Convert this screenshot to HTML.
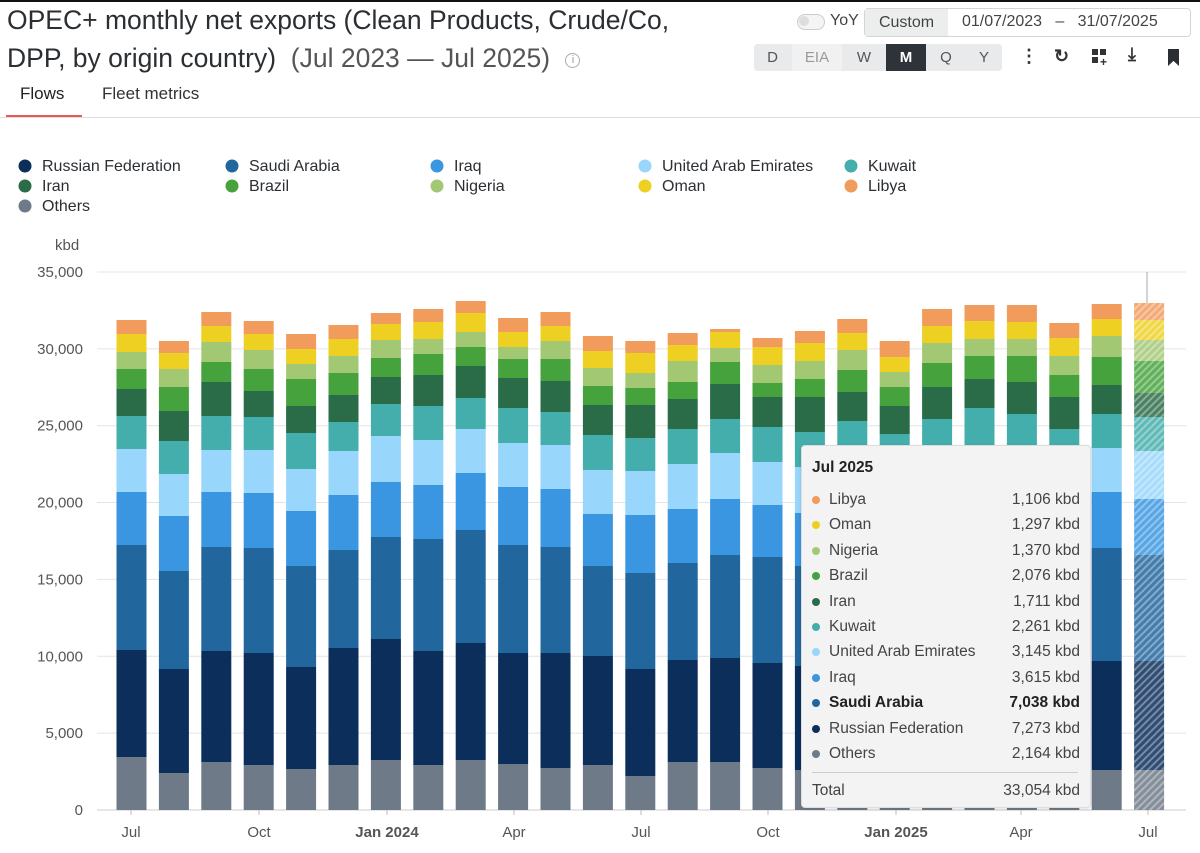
<!DOCTYPE html>
<html><head><meta charset="utf-8">
<style>
body{margin:0;width:1200px;height:853px;background:#fff;font-family:"Liberation Sans",sans-serif;color:#2b2f33;position:relative;overflow:hidden}
.a{position:absolute;white-space:nowrap}
.btn{position:absolute;top:44px;height:27px;line-height:27px;text-align:center;font-size:15px;color:#555;background:#e9eaeb}
</style></head><body>
<div class="a" style="left:0;top:0;width:1200px;height:2px;background:#111"></div>
<div class="a" style="left:7px;top:5px;font-size:26.5px;color:#2b2f33">OPEC+ monthly net exports (Clean Products, Crude/Co,</div>
<div class="a" style="left:7px;top:43px;font-size:26.5px;color:#2b2f33">DPP, by origin country) <span style="color:#555;font-weight:300">&nbsp;(Jul 2023 — Jul 2025)</span> <span style="color:#999;border:1.5px solid #aaa;border-radius:50%;display:inline-block;width:13px;height:13px;line-height:13px;text-align:center;font-size:11px;vertical-align:4px;margin-left:8px">i</span></div>
<div class="a" style="left:20px;top:84px;font-size:17px;color:#222">Flows</div>
<div class="a" style="left:102px;top:84px;font-size:17px;color:#333">Fleet metrics</div>
<div class="a" style="left:6px;top:115px;width:76px;height:3px;background:#e85a56"></div>
<div class="a" style="left:0;top:117px;width:1200px;height:1px;background:#ddd"></div>
<div class="a" style="left:797px;top:14px;width:26px;height:14px;border:1px solid #ccc;border-radius:8px;background:#f4f4f4"></div>
<div class="a" style="left:799px;top:16px;width:10px;height:10px;border-radius:50%;background:#ddd"></div>
<div class="a" style="left:830px;top:12px;font-size:16px;color:#444">YoY</div>
<div class="a" style="left:864px;top:8px;width:325px;height:27px;border:1px solid #d5d5d5;border-radius:4px"></div>
<div class="a" style="left:865px;top:9px;width:83px;height:27px;background:#eceded;line-height:27px;text-align:center;font-size:16px;color:#444">Custom</div>
<div class="a" style="left:962px;top:13px;font-size:16px;color:#444">01/07/2023 &nbsp;&nbsp;–&nbsp;&nbsp; 31/07/2025</div>
<div class="a" style="left:754px;top:44px;width:248px;height:27px;background:#e9eaeb;border-radius:4px"></div>
<div class="btn" style="left:754px;width:37px;border-radius:4px 0 0 4px">D</div>
<div class="btn" style="left:792px;width:50px;background:#f1f1f1;color:#999">EIA</div>
<div class="btn" style="left:844px;width:40px">W</div>
<div class="btn" style="left:886px;width:40px;background:#2d3339;color:#fff;font-weight:bold">M</div>
<div class="btn" style="left:927px;width:38px">Q</div>
<div class="btn" style="left:966px;width:36px;border-radius:0 4px 4px 0">Y</div>
<div class="a" style="left:1020px;top:46px;font-size:18px;font-weight:bold;color:#333">⋮</div>
<div class="a" style="left:1054px;top:46px;font-size:18px;font-weight:bold;color:#333">↻</div>
<div class="a" style="left:1092px;top:49px;width:6px;height:6px;background:#333"></div><div class="a" style="left:1100px;top:49px;width:6px;height:6px;background:#333"></div><div class="a" style="left:1092px;top:57px;width:6px;height:6px;background:#333"></div><div class="a" style="left:1100px;top:55px;font-size:12px;font-weight:bold;color:#333">+</div>
<div class="a" style="left:1128px;top:44px;font-size:18px;font-weight:bold;color:#333">⤓</div>
<div class="a" style="left:1168px;top:49px;width:11px;height:17px;background:#2b2f33;clip-path:polygon(0 0,100% 0,100% 100%,50% 70%,0 100%)"></div>
<svg class="a" style="left:0;top:0" width="1200" height="853" id="s">
<g font-family="Liberation Sans" font-size="16" fill="#2b2f33" id="leg"></g>
<g id="g"></g>
</svg>
<div class="a" style="left:801px;top:445px;width:288px;height:361px;background:#f3f3f3;border:1px solid #ddd;border-radius:4px;box-shadow:0 1px 3px rgba(0,0,0,0.12);font-size:15.5px;color:#444">
<div style="position:absolute;left:10px;top:13px;font-weight:bold;font-size:15.5px;color:#222">Jul 2025</div>
<div id="tt"></div>
<div style="position:absolute;left:10px;top:326px;width:266px;height:1px;background:#ccc"></div>
<div style="position:absolute;left:10px;top:336px">Total</div>
<div style="position:absolute;right:10px;top:336px">33,054 kbd</div>
</div>
<script>
var C=["#6e7a88","#0b2e5a","#22669e","#3a96e0","#98d6fb","#43aeac","#2a6b48","#45a23d","#a3c874","#edd022","#f19b5d"];
var N=["Others","Russian Federation","Saudi Arabia","Iraq","United Arab Emirates","Kuwait","Iran","Brazil","Nigeria","Oman","Libya"];
var D=[[757,650,545,492,449,416,389,369,352,334,320],[773,669,571,516,474,441,411,387,369,353,341],[762,651,547,492,450,416,382,362,342,326,312],[765,653,548,493,450,417,391,369,350,334,321],[769,667,566,511,469,433,406,379,364,349,334],[765,648,550,495,451,422,395,373,356,339,325],[760,639,537,482,436,404,377,358,340,324,313],[765,651,539,485,440,406,375,354,339,322,309],[760,643,530,473,429,398,366,347,332,313,301],[764,653,545,487,443,408,378,359,347,332,318],[768,653,547,489,445,412,381,359,341,326,312],[765,656,566,514,470,435,405,386,368,351,336],[776,669,573,515,471,438,405,388,373,353,341],[762,660,563,509,464,429,399,382,361,345,333],[762,658,555,499,453,419,384,362,348,332,329],[768,663,557,505,462,427,397,383,365,347,338],[770,666,566,513,467,432,397,379,361,343,331],[768,662,558,505,460,421,392,370,350,333,319],[770,665,565,510,465,434,406,387,372,357,341],[765,660,555,500,455,419,387,363,343,326,309],[766,660,555,500,455,408,379,356,339,321,305],[766,660,555,500,455,414,382,356,339,322,305],[768,662,560,505,462,429,397,375,356,338,323],[770,661,548,492,448,414,385,357,336,319,304],[770,661,555,499,451,417,393,361,340,320,303]];
var h='<defs><pattern id="hp" width="5" height="5" patternUnits="userSpaceOnUse" patternTransform="rotate(45)"><rect width="2" height="5" fill="rgba(255,255,255,0.35)"/></pattern></defs>';
var ys=[0,5000,10000,15000,20000,25000,30000,35000];
ys.forEach(function(v,i){var y=810-i*76.86;h+='<line x1="97" x2="1186" y1="'+y+'" y2="'+y+'" stroke="'+(i?'#e4e4e4':'#ccc')+'"/>';h+='<text x="83" y="'+(y+5)+'" text-anchor="end" font-family="Liberation Sans" font-size="15" fill="#555">'+v.toLocaleString('en-US')+'</text>';});
h+='<text x="55" y="250" font-family="Liberation Sans" font-size="15" fill="#555">kbd</text>';
D.forEach(function(b,k){var x=116.5+k*42.4,prev=810;b.forEach(function(t,j){h+='<rect x="'+x+'" y="'+t+'" width="30" height="'+(prev-t)+'" fill="'+C[j]+'"'+(k==24?' opacity="0.85"':'')+'/>';if(k==24)h+='<rect x="'+x+'" y="'+t+'" width="30" height="'+(prev-t)+'" fill="url(#hp)"/>';prev=t;});});
h+='<line x1="1147" x2="1147" y1="272" y2="303" stroke="#aaa"/>';
var L=[["Jul",131],["Oct",259],["Jan 2024",387,1],["Apr",514],["Jul",641],["Oct",768],["Jan 2025",896,1],["Apr",1021],["Jul",1148]];
L.forEach(function(l){h+='<line x1="'+l[1]+'" x2="'+l[1]+'" y1="810" y2="815" stroke="#bbb"/><text x="'+l[1]+'" y="837" text-anchor="middle" font-family="Liberation Sans" font-size="15" fill="#555"'+(l[2]?' font-weight="bold" fill="#333"':'')+'>'+l[0]+'</text>';});
document.getElementById('g').innerHTML=h;
var lg=[[1,25,166],[2,232,166],[3,437,166],[4,645,166],[5,851,166],[6,25,186],[7,232,186],[8,437,186],[9,645,186],[10,851,186],[0,25,206]];
var s='';lg.forEach(function(l){s+='<circle cx="'+l[1]+'" cy="'+l[2]+'" r="6.5" fill="'+C[l[0]]+'"/><text x="'+(l[1]+17)+'" y="'+(l[2]+5)+'">'+N[l[0]]+'</text>';});
document.getElementById('leg').innerHTML=s;
var V=["2,164","7,273","7,038","3,615","3,145","2,261","1,711","2,076","1,370","1,297","1,106"];
var t='';for(var j=10;j>=0;j--){var y=54+(10-j)*25.4;var b=j==2?'font-weight:bold;color:#222;':'';t+='<div style="position:absolute;left:10px;top:'+(y-4)+'px;width:8px;height:8px;border-radius:50%;background:'+C[j]+'"></div><div style="position:absolute;left:27px;top:'+(y-9)+'px;'+b+'">'+N[j]+'</div><div style="position:absolute;right:10px;top:'+(y-9)+'px;'+b+'">'+V[j]+' kbd</div>';}
document.getElementById('tt').innerHTML=t;
</script>
</body></html>
